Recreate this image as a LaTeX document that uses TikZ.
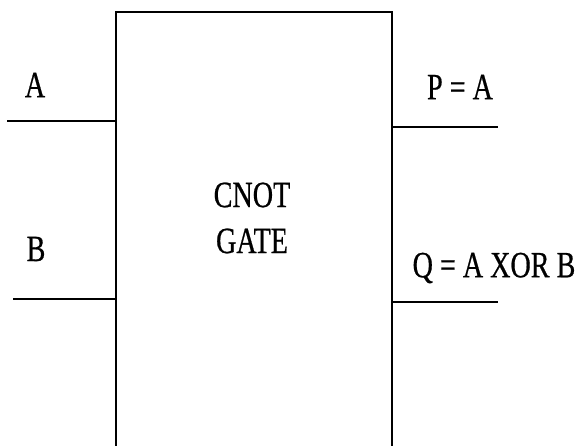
\documentclass[tikz,border=0pt]{standalone}
\usepackage{fontspec}
\newfontfamily\labfont{Liberation Serif}[FakeBold=0.7]
\begin{document}
\begin{tikzpicture}[x=1pt,y=-1pt,
  wire/.style={line width=1.8pt,draw=black},
  lab/.style={font=\labfont\fontsize{37}{46}\selectfont,inner sep=0pt,xscale=0.76,text=black,align=center}]
\useasboundingbox (0,0) rectangle (581,446);
\clip (0,0) rectangle (581,446);
\node[wire,draw,rectangle,minimum width=276pt,minimum height=468pt,inner sep=0pt] (box) at (254,246) {};
\node[lab] (gate) at (252,218) {CNOT\\GATE};
\coordinate (a0) at (7,121);
\coordinate (b0) at (13,299);
\coordinate (p1) at (498,127);
\coordinate (q1) at (498,302);
\draw[wire] (a0) -- (a0 -| box.west);
\draw[wire] (b0) -- (b0 -| box.west);
\draw[wire] (p1 -| box.east) -- (p1);
\draw[wire] (q1 -| box.east) -- (q1);
\node[lab] (la) at (35,85) {A};
\node[lab] (lb) at (36,249) {B};
\node[lab] (lp) at (460,87) {P = A};
\node[lab] (lq) at (494,268) {Q = A XOR B};
\end{tikzpicture}
\end{document}
